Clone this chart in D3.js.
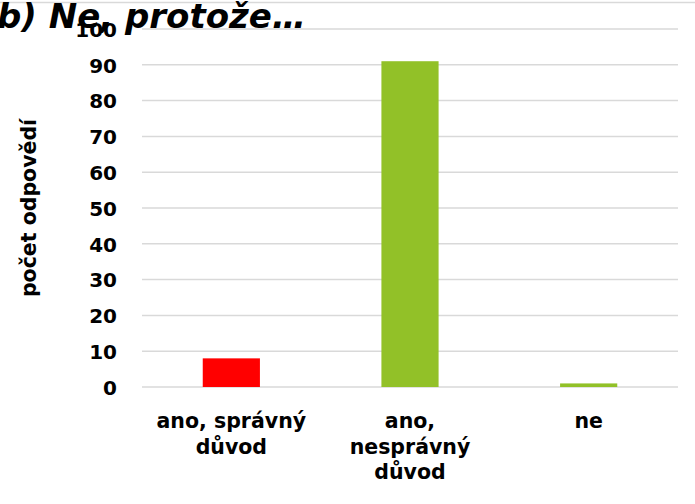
<!DOCTYPE html>
<html>
<head>
<meta charset="utf-8">
<script src="https://cdn.jsdelivr.net/npm/d3@7"></script>
<style>
  body { margin: 0; background: #fff; }
  svg { display: block; font-family: "DejaVu Sans", sans-serif; }
</style>
</head>
<body>
<div class="holder"></div>
<script>
"use strict";

const categories = [
  ["ano, správný", "důvod"],
  ["ano,", "nesprávný", "důvod"],
  ["ne"]
];
const values = [8, 91, 1];
const barColors = ["#ff0000", "#92c128", "#92c128"];
const yTicks = [0, 10, 20, 30, 40, 50, 60, 70, 80, 90, 100];
const titleText = "b) Ne, protože…";
const yTitle = "počet odpovědí";

const w = 695;
const h = 504;
const margin = { left: 142, right: 17, top: 29, bottom: 117 };

const svg = d3
  .select(".holder")
  .append("svg")
  .attr("width", w)
  .attr("height", h);

// top border line of the chart area
svg
  .append("line")
  .attr("x1", 0)
  .attr("x2", w)
  .attr("y1", 2.5)
  .attr("y2", 2.5)
  .attr("stroke", "#d9d9d9")
  .attr("stroke-width", 1.5);

svg
  .append("text")
  .attr("x", -3)
  .attr("y", 28)
  .attr("font-size", 34)
  .attr("font-weight", "bold")
  .attr("font-style", "italic")
  .attr("fill", "#000")
  .text(titleText);

const x = d3
  .scaleBand()
  .domain(d3.range(categories.length))
  .range([margin.left, w - margin.right])
  .paddingInner(0.68)
  .paddingOuter(0.34);

const y = d3
  .scaleLinear()
  .domain([0, 100])
  .range([h - margin.bottom, margin.top]);

// gridlines
svg
  .append("g")
  .selectAll("line")
  .data(yTicks)
  .enter()
  .append("line")
  .attr("x1", margin.left)
  .attr("x2", w - margin.right)
  .attr("y1", (d) => y(d))
  .attr("y2", (d) => y(d))
  .attr("stroke", "#d9d9d9")
  .attr("stroke-width", 1.5);

svg
  .selectAll("rect.bar")
  .data(values)
  .enter()
  .append("rect")
  .attr("class", "bar")
  .attr("x", (d, i) => x(i))
  .attr("width", x.bandwidth())
  .attr("y", (d) => y(d))
  .attr("height", (d) => y(0) - y(d))
  .attr("fill", (d, i) => barColors[i]);

const yAxis = d3
  .axisLeft(y)
  .tickValues(yTicks)
  .tickSize(0)
  .tickPadding(25);

svg
  .append("g")
  .attr("transform", "translate(" + margin.left + ",0)")
  .call(yAxis)
  .call((g) => g.select(".domain").remove())
  .selectAll("text")
  .attr("font-size", 20)
  .attr("font-weight", "bold")
  .attr("font-family", "DejaVu Sans, sans-serif")
  .attr("fill", "#000")
  .attr("dy", "0.36em");

const xLabels = svg
  .append("g")
  .selectAll("text")
  .data(categories)
  .enter()
  .append("text")
  .attr("text-anchor", "middle")
  .attr("font-size", 20.5)
  .attr("font-weight", "bold")
  .attr("fill", "#000")
  .attr("x", (d, i) => x(i) + x.bandwidth() / 2)
  .attr("y", 428);

xLabels
  .selectAll("tspan")
  .data((d) => d)
  .enter()
  .append("tspan")
  .attr("x", function () {
    return d3.select(this.parentNode).attr("x");
  })
  .attr("dy", (d, i) => (i === 0 ? 0 : 25.5))
  .text((d) => d);

svg
  .append("text")
  .attr("transform", "translate(36,208) rotate(-90)")
  .attr("text-anchor", "middle")
  .attr("font-size", 20.5)
  .attr("font-weight", "bold")
  .attr("fill", "#000")
  .text(yTitle);
</script>
</body>
</html>
